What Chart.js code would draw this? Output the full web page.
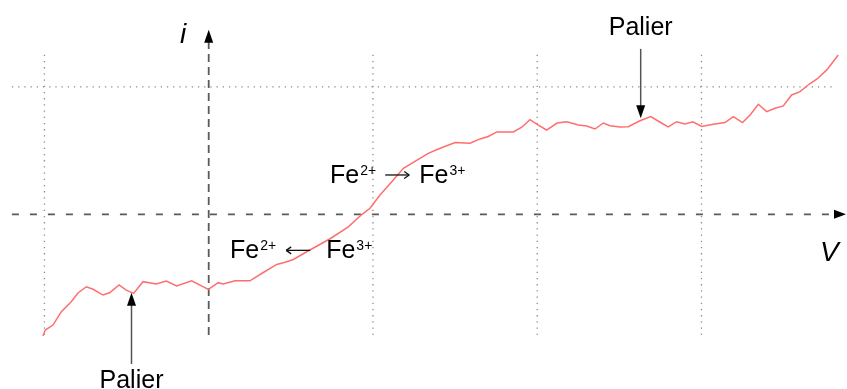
<!DOCTYPE html>
<html>
<head>
<meta charset="utf-8">
<script src="https://cdn.jsdelivr.net/npm/chart.js@4.4.1/dist/chart.umd.min.js"></script>
<style>
  html, body { margin: 0; padding: 0; background: #ffffff; }
  canvas { display: block; }
</style>
</head>
<body>
<canvas id="curve" width="847" height="389"></canvas>
<script>
// Current–voltage curve of the Fe2+/Fe3+ couple (arbitrary units)
const voltage = [
  -1.009, -0.995, -0.948, -0.897, -0.837, -0.796, -0.745, -0.704, -0.644, -0.603,
  -0.546, -0.502, -0.457, -0.400, -0.319, -0.258, -0.195, -0.104, -0.002, 0.058,
  0.089, 0.160, 0.251, 0.325, 0.414, 0.465, 0.515, 0.597, 0.739, 0.848,
  0.932, 0.982, 1.043, 1.124, 1.185, 1.266, 1.337, 1.398, 1.500, 1.591,
  1.652, 1.702, 1.755, 1.855, 1.906, 1.956, 2.007, 2.057, 2.121, 2.180,
  2.250, 2.301, 2.352, 2.402, 2.443, 2.504, 2.555, 2.626, 2.691, 2.748,
  2.798, 2.849, 2.900, 2.947, 3.002, 3.072, 3.143, 3.194, 3.250, 3.296,
  3.346, 3.397, 3.448, 3.498, 3.549, 3.600, 3.661, 3.704, 3.763, 3.833
];
const current = [
  -0.956, -0.909, -0.870, -0.765, -0.687, -0.618, -0.569, -0.589, -0.634, -0.616,
  -0.555, -0.595, -0.621, -0.529, -0.548, -0.524, -0.563, -0.522, -0.589, -0.537,
  -0.548, -0.522, -0.522, -0.463, -0.394, -0.377, -0.355, -0.294, -0.192, -0.100,
  -0.002, 0.047, 0.152, 0.269, 0.361, 0.423, 0.479, 0.513, 0.564, 0.558,
  0.592, 0.611, 0.647, 0.647, 0.684, 0.743, 0.701, 0.662, 0.717, 0.727,
  0.701, 0.694, 0.670, 0.717, 0.696, 0.686, 0.688, 0.735, 0.767, 0.723,
  0.686, 0.727, 0.709, 0.727, 0.690, 0.707, 0.721, 0.767, 0.720, 0.780,
  0.864, 0.806, 0.833, 0.851, 0.937, 0.963, 1.027, 1.063, 1.134, 1.251
];

// Guide lines (dotted) and axis extents
const gridVoltages = [-1, 1, 2, 3];
const gridCurrents = [1];
const gridVoltageSpan = [-1.198, 3.813];
const gridCurrentSpan = [-0.948, 1.283];
const axisVoltageSpan = [-1.198, 3.880];
const axisCurrentSpan = [-0.948, 1.450];

// Visible window of the plot
const voltageRange = [-1.2706, 3.886];
const currentRange = [-1.372, 1.683];

// "Palier" markers: [voltage of text/arrow, text baseline, arrow start, arrow tip]
const plateauTop = [2.630, 1.408, 1.299, 0.754];
const plateauBottom = [-0.470, -1.364, -1.176, -0.616];

// Reaction labels: [left voltage, baseline current]
const oxidationLabel = [0.739, 0.246];
const reductionLabel = [0.130, -0.346];

const mainFont = '25px "Liberation Sans", Arial, sans-serif';
const supFont = '14px "Liberation Sans", Arial, sans-serif';
const axisFont = 'italic 28px "Liberation Sans", Arial, sans-serif';

function segment(ctx, x1, y1, x2, y2) {
  ctx.beginPath();
  ctx.moveTo(x1, y1);
  ctx.lineTo(x2, y2);
  ctx.stroke();
}

function arrowHead(ctx, tx, ty, dx, dy, len, half) {
  // (dx, dy) is the unit direction the arrow points to
  const bx = tx - dx * len, by = ty - dy * len;
  ctx.beginPath();
  ctx.moveTo(tx, ty);
  ctx.lineTo(bx - dy * half, by + dx * half);
  ctx.lineTo(bx + dy * half, by - dx * half);
  ctx.closePath();
  ctx.fill();
}

// Draws "Fe2+ -> Fe3+" style text with superscripts and a thin arrow glyph
function reactionText(ctx, left, base, pointsRight, gapBefore, gapAfter) {
  let cx = left;
  const piece = (t) => {
    ctx.font = mainFont;
    ctx.fillText(t, cx, base);
    cx += ctx.measureText(t).width + 1;
  };
  const sup = (t) => {
    ctx.font = supFont;
    ctx.fillText(t, cx, base - 8);
    cx += ctx.measureText(t).width;
  };
  piece('Fe'); sup('2+');
  cx += gapBefore;
  const a0 = cx, a1 = cx + 24, ay = base - 8;
  ctx.save();
  ctx.strokeStyle = '#111';
  ctx.lineWidth = 1.3;
  segment(ctx, a0, ay, a1, ay);
  if (pointsRight) {
    segment(ctx, a1 - 5, ay - 3.5, a1, ay);
    segment(ctx, a1 - 5, ay + 3.5, a1, ay);
  } else {
    segment(ctx, a0 + 5, ay - 3.5, a0, ay);
    segment(ctx, a0 + 5, ay + 3.5, a0, ay);
  }
  ctx.restore();
  cx = a1 + gapAfter;
  piece('Fe'); sup('3+');
}

const decorations = {
  id: 'decorations',
  beforeDatasetsDraw(chart) {
    const { ctx, scales: { x, y } } = chart;
    ctx.save();
    // dotted guide lines
    ctx.strokeStyle = '#8c8c8c';
    ctx.lineWidth = 1.3;
    ctx.setLineDash([1.3, 4.9]);
    gridVoltages.forEach(v => {
      const px = x.getPixelForValue(v);
      segment(ctx, px, y.getPixelForValue(gridCurrentSpan[0]), px, y.getPixelForValue(gridCurrentSpan[1]));
    });
    gridCurrents.forEach(c => {
      const py = y.getPixelForValue(c);
      segment(ctx, x.getPixelForValue(gridVoltageSpan[0]), py, x.getPixelForValue(gridVoltageSpan[1]), py);
    });

    // dashed axes
    ctx.strokeStyle = '#5a5a5a';
    ctx.lineWidth = 1.8;
    const x0 = x.getPixelForValue(0), y0 = y.getPixelForValue(0);
    const xEnd = x.getPixelForValue(axisVoltageSpan[1]);
    const yEnd = y.getPixelForValue(axisCurrentSpan[1]);
    ctx.setLineDash([7, 11]);
    segment(ctx, x.getPixelForValue(axisVoltageSpan[0]), y0, xEnd - 10, y0);
    ctx.setLineDash([8, 5]);
    segment(ctx, x0, y.getPixelForValue(axisCurrentSpan[0]), x0, yEnd + 10);
    ctx.setLineDash([]);
    ctx.fillStyle = '#000';
    arrowHead(ctx, xEnd, y0, 1, 0, 12, 4.5);
    arrowHead(ctx, x0, yEnd, 0, -1, 13, 4.5);
    ctx.restore();
  },
  afterDatasetsDraw(chart) {
    const { ctx, scales: { x, y } } = chart;
    ctx.save();
    ctx.fillStyle = '#000';
    ctx.textBaseline = 'alphabetic';

    // axis names
    ctx.font = axisFont;
    ctx.textAlign = 'left';
    ctx.fillText('i', x.getPixelForValue(-0.175), y.getPixelForValue(1.343));
    ctx.fillText('V', x.getPixelForValue(3.722), y.getPixelForValue(-0.364));

    // plateau markers
    [plateauTop, plateauBottom].forEach(p => {
      const px = x.getPixelForValue(p[0]);
      ctx.font = mainFont;
      ctx.textAlign = 'center';
      ctx.fillStyle = '#000';
      ctx.fillText('Palier', px, y.getPixelForValue(p[1]));
      const ys = y.getPixelForValue(p[2]);
      const yt = y.getPixelForValue(p[3]);
      const dir = yt > ys ? 1 : -1;
      ctx.strokeStyle = '#555';
      ctx.lineWidth = 1.5;
      segment(ctx, px, ys, px, yt - dir * 10);
      arrowHead(ctx, px, yt, 0, dir, 13, 4.5);
    });

    // reaction labels
    ctx.textAlign = 'left';
    reactionText(ctx, x.getPixelForValue(oxidationLabel[0]), y.getPixelForValue(oxidationLabel[1]), true, 9, 10);
    reactionText(ctx, x.getPixelForValue(reductionLabel[0]), y.getPixelForValue(reductionLabel[1]), false, 10, 16);
    ctx.restore();
  }
};

new Chart(document.getElementById('curve'), {
  type: 'line',
  data: {
    datasets: [{
      data: voltage.map((v, k) => ({ x: v, y: current[k] })),
      borderColor: '#ff6e6e',
      borderWidth: 1.5,
      pointRadius: 0,
      tension: 0,
      fill: false
    }]
  },
  options: {
    responsive: false,
    animation: false,
    layout: { padding: 0 },
    plugins: { legend: { display: false }, tooltip: { enabled: false } },
    scales: {
      x: { type: 'linear', min: voltageRange[0], max: voltageRange[1], display: false },
      y: { type: 'linear', min: currentRange[0], max: currentRange[1], display: false }
    }
  },
  plugins: [decorations]
});
</script>
</body>
</html>
